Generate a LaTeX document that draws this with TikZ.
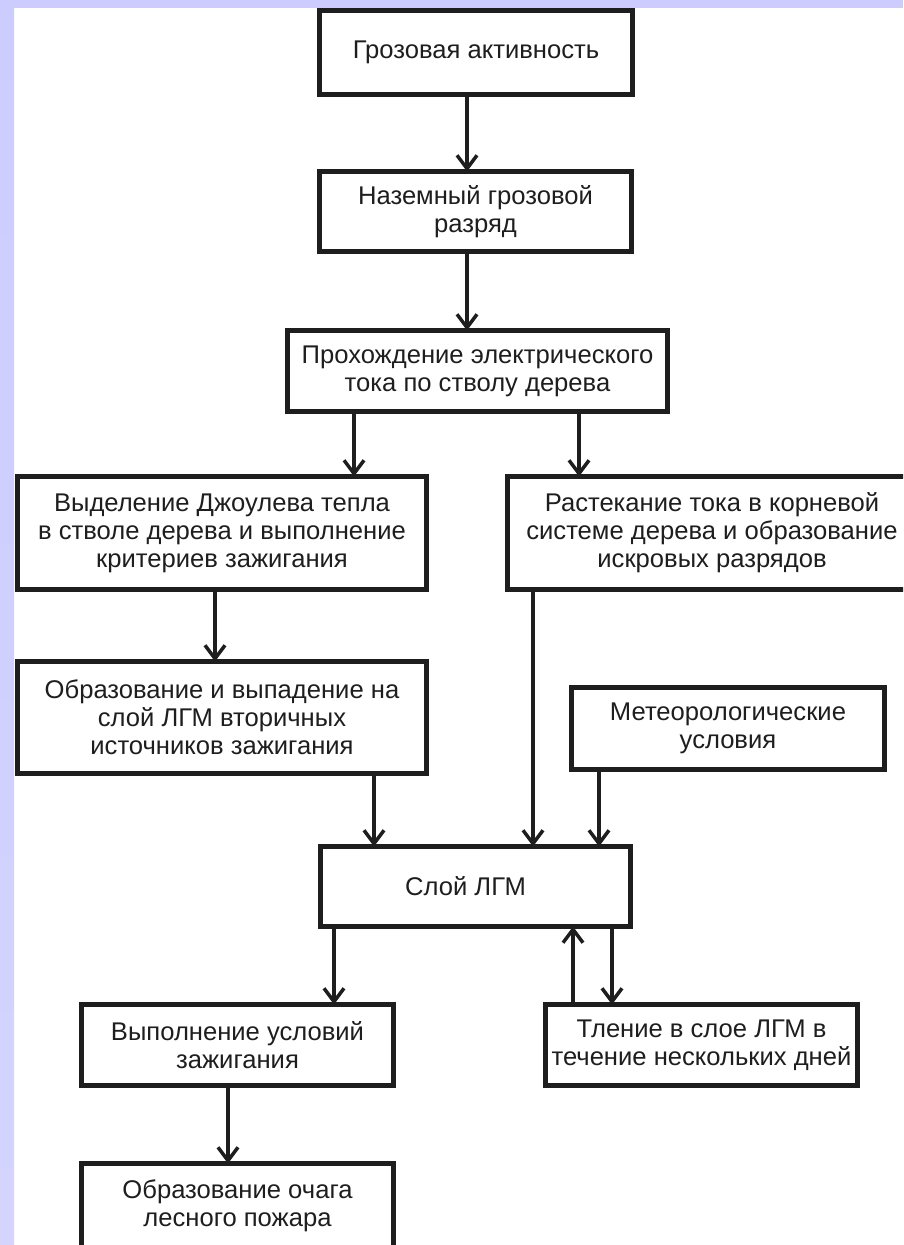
\documentclass[tikz,border=0pt]{standalone}
\usepackage{fontspec}
\setmainfont{Liberation Sans}
\usetikzlibrary{arrows.meta}
\definecolor{ink}{HTML}{1E1E1E}
\definecolor{lavA}{HTML}{CCCCFF}
\definecolor{lavB}{HTML}{E6E6FF}
\definecolor{lavC}{HTML}{D4D4FF}

\begin{document}
\begin{tikzpicture}[x=0.75pt,y=-0.75pt,
  box/.style={draw=ink, line width=4pt, fill=white, align=center,
    inner sep=0pt, outer sep=0pt, text=ink,
    font=\fontsize{19.2}{21}\selectfont},
  dims/.style 2 args={minimum width=#1*0.75pt, minimum height=#2*0.75pt},
  arr/.style={draw=ink, line width=3pt,
    -{Straight Barb[length=10pt,width=15pt,line width=2.6pt]}}]

% page and lavender frame
\clip (0,0) rectangle (903,1245);
\fill[white] (0,0) rectangle (903,1245);
\fill[lavA] (0,0) rectangle (903,8);
\shade[top color=lavA, middle color=lavB, bottom color=lavC]
  (0,0) rectangle (14,1245);

% boxes
\node[box, dims={313}{84}] (b1) at (476,52.5) {Грозовая активность};
\node[box, dims={312}{80}] (b2) at (475.5,211.5) {Наземный грозовой\\разряд};
\node[box, dims={380}{81}] (b3) at (477.5,371) {Прохождение электрического\\тока по стволу дерева};
\node[box, dims={409}{113}] (b4) at (222,533) {Выделение Джоулева тепла\\в стволе дерева и выполнение\\критериев зажигания};
\node[box, dims={409}{113}] (b5) at (712,533) {Растекание тока в корневой\\системе дерева и образование\\искровых разрядов};
\node[box, dims={409}{112}] (b6) at (222,717.5) {Образование и выпадение на\\слой ЛГМ вторичных\\источников зажигания};
\node[box, dims={313}{82}] (b7) at (728,728.5) {Метеорологические\\условия};
\node[box, dims={310}{80}] (b8) at (475.5,886.5) {Слой ЛГМ\kern15pt};
\node[box, dims={312}{81}] (b9) at (237.5,1045) {Выполнение условий\\зажигания};
\node[box, dims={312}{84}] (b10) at (237.5,1205.5) {Образование очага\\лесного пожара};
\node[box, dims={312}{81}] (b11) at (701.5,1045) {Тление в слое ЛГМ в\\течение нескольких дней};

% connectors
\draw[arr] (b1.south -| 467,0) -- (b2.north -| 467,0);
\draw[arr] (b2.south -| 467,0) -- (b3.north -| 467,0);
\draw[arr] (b3.south -| 354,0) -- (b4.north -| 354,0);
\draw[arr] (b3.south -| 579,0) -- (b5.north -| 579,0);
\draw[arr] (b4.south -| 215,0) -- (b6.north -| 215,0);
\draw[arr] (b6.south -| 374,0) -- (b8.north -| 374,0);
\draw[arr] (b5.south -| 533,0) -- (b8.north -| 533,0);
\draw[arr] (b7.south -| 599,0) -- (b8.north -| 599,0);
\draw[arr] (b8.south -| 334,0) -- (b9.north -| 334,0);
\draw[arr] (b8.south -| 612,0) -- (b11.north -| 612,0);
\draw[arr] (b11.north -| 573,0) -- (b8.south -| 573,0);
\draw[arr] (b9.south -| 228,0) -- (b10.north -| 228,0);
\end{tikzpicture}
\end{document}
